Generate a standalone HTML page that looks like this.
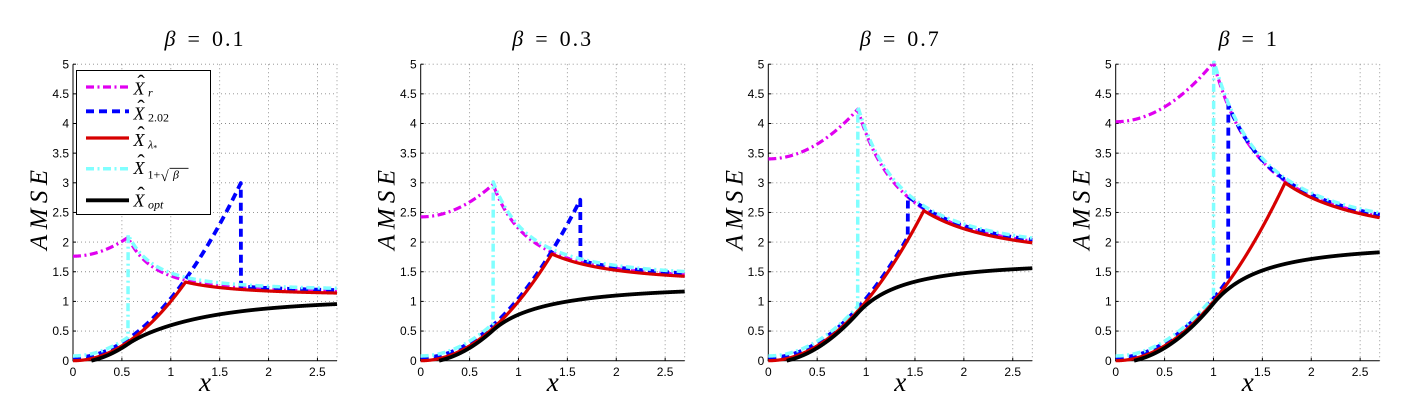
<!DOCTYPE html>
<html><head><meta charset="utf-8">
<style>
html,body{margin:0;padding:0;background:#fff;}
svg{display:block;}
.tk{font-family:"Liberation Sans",Arial,sans-serif;font-size:12px;fill:#000;}
.sr{font-family:"Liberation Serif","DejaVu Serif",serif;fill:#000;}
.yl text{text-anchor:end;}
.xl text{text-anchor:middle;}
</style></head><body>
<svg id="s" width="1402" height="411" viewBox="0 0 1402 411" xmlns="http://www.w3.org/2000/svg">
<rect width="1402" height="411" fill="#fff"/>

<g transform="translate(73,0)">
 <g id="grid0"></g>
 <g class="tk yl"><text x="-4" y="364.9">0</text><text x="-4" y="335.2">0.5</text><text x="-4" y="305.6">1</text><text x="-4" y="275.9">1.5</text><text x="-4" y="246.3">2</text><text x="-4" y="216.6">2.5</text><text x="-4" y="187">3</text><text x="-4" y="157.3">3.5</text><text x="-4" y="127.7">4</text><text x="-4" y="98">4.5</text><text x="-4" y="68.4">5</text></g>
 <g class="tk xl"><text x="0" y="376">0</text><text x="48.9" y="376">0.5</text><text x="97.8" y="376">1</text><text x="146.7" y="376">1.5</text><text x="195.6" y="376">2</text><text x="244.4" y="376">2.5</text></g>
 <text class="sr" font-family="Liberation Serif, serif" x="132" y="391" text-anchor="middle" font-size="27" font-style="italic">x</text>
 <text class="sr" font-family="Liberation Serif, serif" transform="translate(-26,210) rotate(-90)" text-anchor="middle" font-style="italic" font-size="25" textLength="80" lengthAdjust="spacing">AMSE</text>
 <text class="sr" font-family="Liberation Serif, serif" x="132" y="46" text-anchor="middle" font-size="22"><tspan font-style="italic">β</tspan><tspan dx="12">=</tspan><tspan dx="12" letter-spacing="2">0.1</tspan></text>
 <g id="c0"></g>
</g>

<g transform="translate(420.7,0)">
 <g id="grid1"></g>
 <g class="tk yl"><text x="-4" y="364.9">0</text><text x="-4" y="335.2">0.5</text><text x="-4" y="305.6">1</text><text x="-4" y="275.9">1.5</text><text x="-4" y="246.3">2</text><text x="-4" y="216.6">2.5</text><text x="-4" y="187">3</text><text x="-4" y="157.3">3.5</text><text x="-4" y="127.7">4</text><text x="-4" y="98">4.5</text><text x="-4" y="68.4">5</text></g>
 <g class="tk xl"><text x="0" y="376">0</text><text x="48.9" y="376">0.5</text><text x="97.8" y="376">1</text><text x="146.7" y="376">1.5</text><text x="195.6" y="376">2</text><text x="244.4" y="376">2.5</text></g>
 <text class="sr" font-family="Liberation Serif, serif" x="132" y="391" text-anchor="middle" font-size="27" font-style="italic">x</text>
 <text class="sr" font-family="Liberation Serif, serif" transform="translate(-26,210) rotate(-90)" text-anchor="middle" font-style="italic" font-size="25" textLength="80" lengthAdjust="spacing">AMSE</text>
 <text class="sr" font-family="Liberation Serif, serif" x="132" y="46" text-anchor="middle" font-size="22"><tspan font-style="italic">β</tspan><tspan dx="12">=</tspan><tspan dx="12" letter-spacing="2">0.3</tspan></text>
 <g id="c1"></g>
</g>

<g transform="translate(768.3,0)">
 <g id="grid2"></g>
 <g class="tk yl"><text x="-4" y="364.9">0</text><text x="-4" y="335.2">0.5</text><text x="-4" y="305.6">1</text><text x="-4" y="275.9">1.5</text><text x="-4" y="246.3">2</text><text x="-4" y="216.6">2.5</text><text x="-4" y="187">3</text><text x="-4" y="157.3">3.5</text><text x="-4" y="127.7">4</text><text x="-4" y="98">4.5</text><text x="-4" y="68.4">5</text></g>
 <g class="tk xl"><text x="0" y="376">0</text><text x="48.9" y="376">0.5</text><text x="97.8" y="376">1</text><text x="146.7" y="376">1.5</text><text x="195.6" y="376">2</text><text x="244.4" y="376">2.5</text></g>
 <text class="sr" font-family="Liberation Serif, serif" x="132" y="391" text-anchor="middle" font-size="27" font-style="italic">x</text>
 <text class="sr" font-family="Liberation Serif, serif" transform="translate(-26,210) rotate(-90)" text-anchor="middle" font-style="italic" font-size="25" textLength="80" lengthAdjust="spacing">AMSE</text>
 <text class="sr" font-family="Liberation Serif, serif" x="132" y="46" text-anchor="middle" font-size="22"><tspan font-style="italic">β</tspan><tspan dx="12">=</tspan><tspan dx="12" letter-spacing="2">0.7</tspan></text>
 <g id="c2"></g>
</g>

<g transform="translate(1115.7,0)">
 <g id="grid3"></g>
 <g class="tk yl"><text x="-4" y="364.9">0</text><text x="-4" y="335.2">0.5</text><text x="-4" y="305.6">1</text><text x="-4" y="275.9">1.5</text><text x="-4" y="246.3">2</text><text x="-4" y="216.6">2.5</text><text x="-4" y="187">3</text><text x="-4" y="157.3">3.5</text><text x="-4" y="127.7">4</text><text x="-4" y="98">4.5</text><text x="-4" y="68.4">5</text></g>
 <g class="tk xl"><text x="0" y="376">0</text><text x="48.9" y="376">0.5</text><text x="97.8" y="376">1</text><text x="146.7" y="376">1.5</text><text x="195.6" y="376">2</text><text x="244.4" y="376">2.5</text></g>
 <text class="sr" font-family="Liberation Serif, serif" x="132" y="391" text-anchor="middle" font-size="27" font-style="italic">x</text>
 <text class="sr" font-family="Liberation Serif, serif" transform="translate(-26,210) rotate(-90)" text-anchor="middle" font-style="italic" font-size="25" textLength="80" lengthAdjust="spacing">AMSE</text>
 <text class="sr" font-family="Liberation Serif, serif" x="132" y="46" text-anchor="middle" font-size="22"><tspan font-style="italic">β</tspan><tspan dx="12">=</tspan><tspan dx="12">1</tspan></text>
 <g id="c3"></g>
</g>

<!-- Legend -->
<g>
 <rect x="76.5" y="70.5" width="134" height="144" fill="#fff" stroke="#000" stroke-width="1"/>
 <line x1="86" y1="87" x2="129" y2="87" stroke="#e000f0" stroke-width="3.2" stroke-dasharray="8 3.5 2 3.5"/>
 <line x1="86" y1="111.3" x2="129" y2="111.3" stroke="#0000ff" stroke-width="3.8" stroke-dasharray="8 5"/>
 <line x1="86" y1="138" x2="129" y2="138" stroke="#d70000" stroke-width="3.2"/>
 <line x1="86" y1="168.7" x2="129" y2="168.7" stroke="#80ffff" stroke-width="3.5" stroke-dasharray="8 3.5 2 3.5"/>
 <line x1="86" y1="200.3" x2="129" y2="200.3" stroke="#000" stroke-width="3.8"/>

 <g class="sr" font-family="Liberation Serif, serif" font-size="18">
  <text x="133.5" y="94.5" font-style="italic">X</text>
  <text x="141" y="90" font-size="22" text-anchor="middle">ˆ</text>
  <text x="148" y="96.5" font-size="12" font-style="italic">r</text>

  <text x="133.5" y="119.5" font-style="italic">X</text>
  <text x="141" y="115" font-size="22" text-anchor="middle">ˆ</text>
  <text x="148" y="121.5" font-size="12">2.02</text>

  <text x="133.5" y="146" font-style="italic">X</text>
  <text x="141" y="141.5" font-size="22" text-anchor="middle">ˆ</text>
  <text x="148" y="148.5" font-size="12" font-style="italic">λ<tspan font-size="8" dy="2" font-style="normal">*</tspan></text>

  <text x="133.5" y="174" font-style="italic">X</text>
  <text x="141" y="169.5" font-size="22" text-anchor="middle">ˆ</text>
  <text x="147.5" y="178.5" font-size="12">1+</text>
  <text x="160.5" y="181" font-size="15">√</text>
  <line x1="169.5" y1="168.3" x2="188.5" y2="168.3" stroke="#000" stroke-width="0.8"/>
  <text x="173" y="178.5" font-size="12" font-style="italic">β</text>

  <text x="133.5" y="206.3" font-style="italic">X</text>
  <text x="141" y="201.8" font-size="22" text-anchor="middle">ˆ</text>
  <text x="148" y="208.5" font-size="12" font-style="italic">opt</text>
 </g>
</g>
</svg>
<script>
(function(){
const NS='http://www.w3.org/2000/svg';
const XS=264/2.7, Y0=360.7, YS=59.3;
function X(v){return v*XS;}
function Y(v){return Y0-v*YS;}
function el(p,t,a){const e=document.createElementNS(NS,t);for(const k in a)e.setAttribute(k,a[k]);p.appendChild(e);return e;}
function yv(x,b){return Math.sqrt((x*x+1)*(x*x+b))/x;}
function cc(x,b){const x4=x*x*x*x;const c2=(x4-b)/(x4+b*x*x), ct2=(x4-b)/(x4+x*x);return Math.sqrt(Math.max(0,c2*ct2));}
function keep(x,b){const y=yv(x,b);return y*y+x*x-2*x*y*cc(x,b);}
function tsvd(x,b){const e=Math.pow(b,0.25);if(x<=e)return x*x+Math.pow(1+Math.sqrt(b),2);return keep(x,b);}
function hard(x,b,l){const e=Math.pow(b,0.25);if(x<=e)return x*x;if(yv(x,b)<=l)return x*x;return keep(x,b);}
function opt(x,b){const e=Math.pow(b,0.25);if(x<=e)return x*x;const c=cc(x,b);return x*x*(1-c*c);}
function lstar(b){return Math.sqrt(2*(b+1)+8*b/((b+1)+Math.sqrt(b*b+14*b+1)));}
const betas=[0.1,0.3,0.7,1];
const styles=[
 {stroke:'#e000f0','stroke-width':3.2,'stroke-dasharray':'8 3.5 2 3.5'},
 {stroke:'#0000ff','stroke-width':3.8,'stroke-dasharray':'8 5'},
 {stroke:'#d70000','stroke-width':3.2},
 {stroke:'#80ffff','stroke-width':3.5,'stroke-dasharray':'8 3.5 2 3.5'},
 {stroke:'#000000','stroke-width':3.8}
];
betas.forEach(function(b,i){
 const gr=document.getElementById('grid'+i);
 for(let k=1;k<=10;k++){const y=Y(k*0.5);el(gr,'line',{x1:0,x2:264,y1:y,y2:y,stroke:'#8a8a8a','stroke-width':0.9,'stroke-dasharray':'1 3'});}
 [0.5,1,1.5,2,2.5,2.7].forEach(function(v){const x=X(v);el(gr,'line',{x1:x,x2:x,y1:Y(5),y2:Y0,stroke:'#8a8a8a','stroke-width':0.9,'stroke-dasharray':'1 3'});});
 el(gr,'line',{x1:0,x2:0,y1:Y(5),y2:Y0+0.5,stroke:'#000','stroke-width':1});
 el(gr,'line',{x1:-0.5,x2:264,y1:Y0,y2:Y0,stroke:'#000','stroke-width':1});
 for(let k=0;k<=10;k++){const y=Y(k*0.5);el(gr,'line',{x1:0,x2:3,y1:y,y2:y,stroke:'#000','stroke-width':1});}
 [0,0.5,1,1.5,2,2.5].forEach(function(v){const x=X(v);el(gr,'line',{x1:x,x2:x,y1:Y0,y2:Y0-3,stroke:'#000','stroke-width':1});});
 const cg=document.getElementById('c'+i);
 const ls=lstar(b), bulk=1+Math.sqrt(b);
 const fns=[
  function(x){return tsvd(x,b)+0.03;},
  function(x){return hard(x,b,2.02)+0.05;},
  function(x){return hard(x,b,ls);},
  function(x){return hard(x,b,bulk)+0.08;},
  function(x){return opt(x,b)-0.035;}
 ];
 fns.forEach(function(fn,j){
  let d='';let first=true;
  for(let n=0;;n++){let x=n*0.002;if(x>2.7)x=2.7;
   let v=Math.min(fn(x),5.03);
   if(v<0){ if(x>=2.7)break; continue; }
   d+=(first?'M':'L')+X(x).toFixed(2)+' '+Y(v).toFixed(2);first=false;
   if(x>=2.7)break;}
  const a=Object.assign({d:d,fill:'none','stroke-linejoin':'round'},styles[j]);
  el(cg,'path',a);
 });
});
})();
</script>
</body></html>
